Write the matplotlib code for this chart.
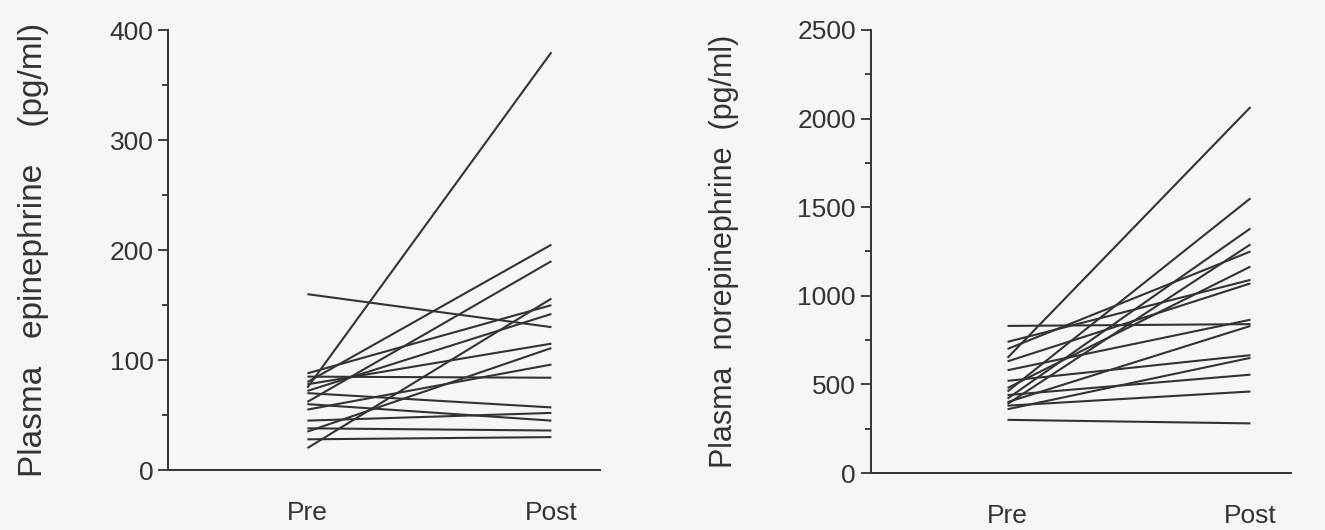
import matplotlib
matplotlib.use('Agg')
import matplotlib.pyplot as plt
from matplotlib.ticker import MultipleLocator

# Pre / Post values
categories = ['Pre', 'Post']

epi_pre = [75, 160, 80, 62, 20, 88, 72, 78, 35, 55, 85, 70, 45, 60, 38, 28]
epi_post = [380, 130, 205, 190, 156, 150, 142, 115, 111, 96, 84, 57, 52, 45, 36, 30]

norepi_pre = [650, 830, 740, 460, 420, 390, 700, 480, 630, 580, 400, 520, 360, 440, 380, 300]
norepi_post = [2065, 840, 1090, 1550, 1380, 1290, 1250, 1165, 1070, 865, 830, 665, 650, 555, 460, 280]

bg = '#f8f5f7'
ink = '#333333'

plt.rcParams['font.family'] = ['Liberation Sans', 'DejaVu Sans']

fig = plt.figure(figsize=(13.25, 5.3), dpi=100, facecolor=bg)


def draw_panel(ax, pre, post, ylim, major, minor, ylabel, xlim, labelsize, labelpad):
    ax.set_facecolor(bg)
    for a, b in zip(pre, post):
        ax.plot([0, 1], [a, b], color=ink, lw=1.5, solid_capstyle='butt')
    ax.set_xlim(*xlim)
    ax.set_ylim(*ylim)
    ax.yaxis.set_major_locator(MultipleLocator(major))
    ax.yaxis.set_minor_locator(MultipleLocator(minor))
    ax.set_xticks([0, 1])
    ax.set_xticklabels(categories)
    for s in ['top', 'right']:
        ax.spines[s].set_visible(False)
    for s in ['left', 'bottom']:
        ax.spines[s].set_color(ink)
        ax.spines[s].set_linewidth(1.4)
    ax.tick_params(axis='y', which='major', length=7.5, width=1.3, colors=ink,
                   labelsize=19, pad=3)
    ax.tick_params(axis='y', which='minor', length=4, width=1.3, colors=ink)
    ax.tick_params(axis='x', length=0, labelsize=19, pad=22, colors=ink)
    ax.set_ylabel(ylabel, fontsize=labelsize, color=ink, labelpad=labelpad)


ax1 = fig.add_axes([0.127, 0.113, 0.326, 0.830])
draw_panel(ax1, epi_pre, epi_post, (0, 400), 100, 50,
           'Plasma   epinephrine    (pg/ml)', (-0.57, 1.2), 24, 44)

ax2 = fig.add_axes([0.657, 0.1075, 0.317, 0.836])
draw_panel(ax2, norepi_pre, norepi_post, (0, 2500), 500, 250,
           'Plasma  norepinephrine  (pg/ml)', (-0.564, 1.165), 22, 42)

fig.savefig('out.png', dpi=100, facecolor=bg)
